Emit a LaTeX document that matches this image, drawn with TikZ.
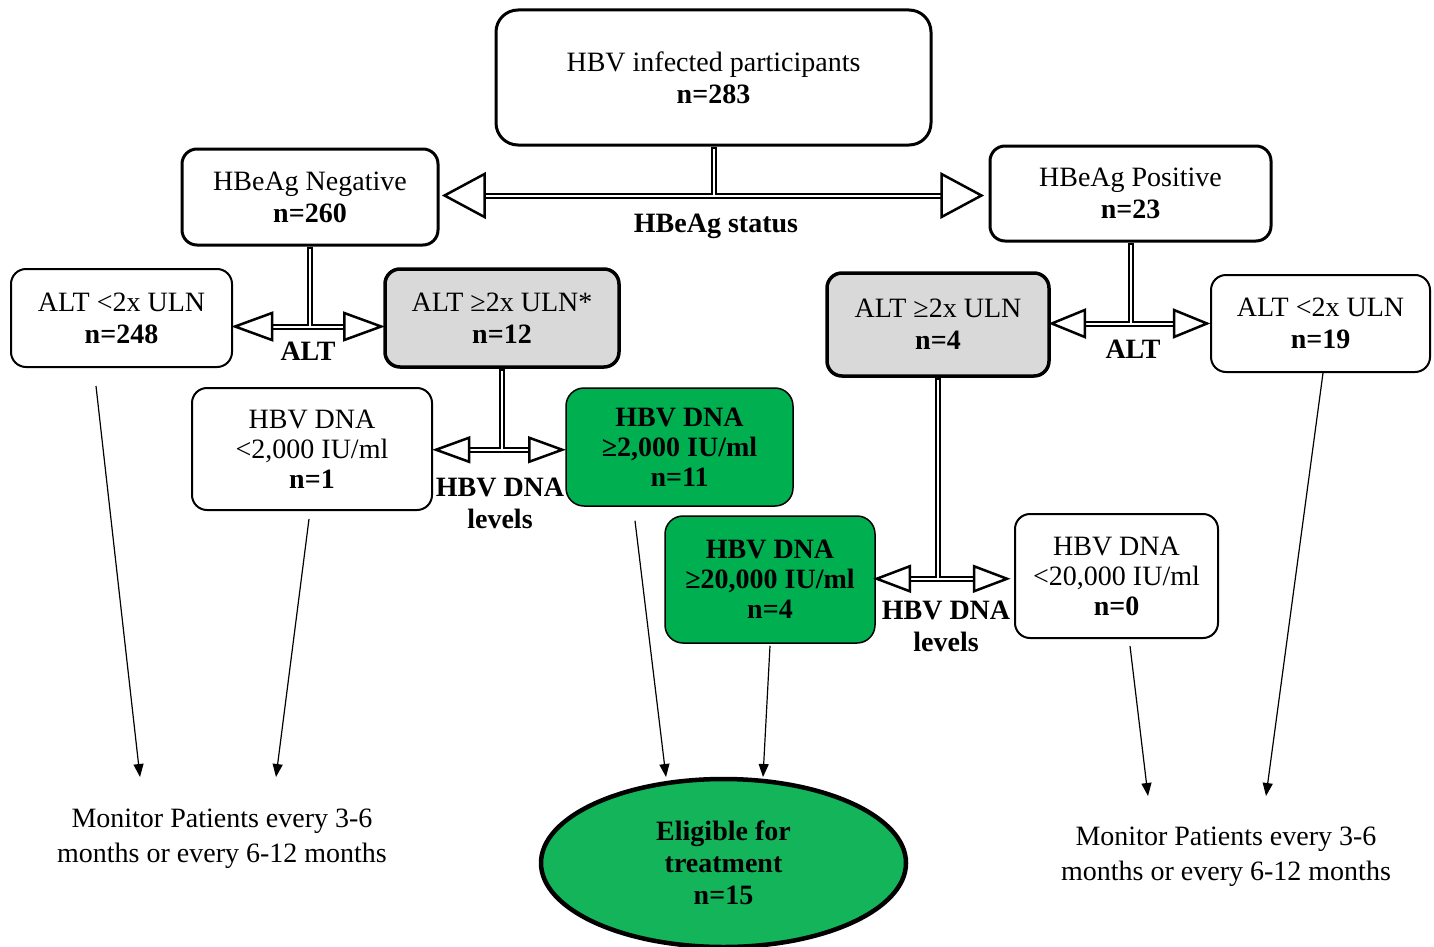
\documentclass[tikz,border=0pt]{standalone}
\usepackage{fontspec}
\setmainfont{Liberation Serif}
\usetikzlibrary{calc,arrows.meta,shapes.geometric}
\definecolor{boxgrey}{RGB}{217,217,217}
\definecolor{boxgreen}{RGB}{0,176,80}
\definecolor{ovalgreen}{RGB}{20,180,90}
\tikzset{
  box/.style={draw=black, rounded corners=15pt, align=center, inner sep=0pt,
    font={\fontsize{28}{32}\selectfont}, line width=2pt},
  greybox/.style={box, fill=boxgrey, line width=3.5pt},
  greenbox/.style={box, fill=boxgreen, line width=1.5pt, rounded corners=18pt,
    font={\fontsize{28}{30}\selectfont\bfseries}},
  plainbox/.style={box, font={\fontsize{28}{30}\selectfont}},
  lbl/.style={align=center, inner sep=0pt, font={\fontsize{28}{32}\selectfont\bfseries}},
  montext/.style={align=center, inner sep=0pt, font={\fontsize{28}{35}\selectfont}},
  dblout/.style={draw=black, line width=6pt, line cap=butt},
  dblin/.style={draw=white, line width=2pt, line cap=butt},
  openhead/.style={draw=black, fill=white, line width=2.5pt, line join=miter},
  thinarrow/.style={draw=black, line width=1.2pt, -{Triangle[length=13pt,width=10pt]}}
}
% #1 source anchor, #2 drop, #3 left node anchor, #4 left gap,
% #5 right node anchor, #6 right gap, #7 head length, #8 head half height
\newcommand{\teeconn}[8]{%
  \coordinate (tj) at ($(#1)+(0,#2)$);
  \coordinate (tL) at ($(#3|-tj)+(#4,0)$);
  \coordinate (tR) at ($(#5|-tj)+(-#6,0)$);
  \coordinate (bL) at ($(tL)+(#7,0)$);
  \coordinate (bR) at ($(tR)+(-#7,0)$);
  \draw[dblout] (#1) -- (tj) (bL) -- (bR);
  \draw[dblin] ($(#1)+(0,2.5)$) -- (tj) (bL) -- (bR);
  \draw[openhead] (tL) -- ($(bL)+(0,#8)$) -- ($(bL)+(0,-#8)$) -- cycle;
  \draw[openhead] (tR) -- ($(bR)+(0,#8)$) -- ($(bR)+(0,-#8)$) -- cycle;
}
\begin{document}
\begin{tikzpicture}[x=1pt,y=-1pt]
\useasboundingbox (0,0) rectangle (1434,947);

% boxes
\node[box, line width=3pt, rounded corners=22pt, minimum width=435pt, minimum height=135pt]
  (top) at (713.5,77.5) {HBV infected participants\\\textbf{n=283}};
\node[box, line width=3pt, minimum width=256pt, minimum height=96pt]
  (neg) at (310,197) {HBeAg Negative\\\textbf{n=260}};
\node[box, line width=3pt, minimum width=281pt, minimum height=95pt]
  (pos) at (1130.5,193.5) {HBeAg Positive\\\textbf{n=23}};
\node[box, minimum width=221pt, minimum height=98pt]
  (altl1) at (121.5,318) {ALT <2x ULN\\\textbf{n=248}};
\node[greybox, minimum width=234pt, minimum height=98pt]
  (altg1) at (502,318) {ALT ≥2x ULN*\\\textbf{n=12}};
\node[plainbox, minimum width=240pt, minimum height=122pt]
  (dnal) at (312,449) {HBV DNA\\<2,000 IU/ml\\\textbf{n=1}};
\node[greenbox, minimum width=227pt, minimum height=118pt]
  (dnag) at (679.5,447) {HBV DNA\\≥2,000 IU/ml\\n=11};
\node[greybox, minimum width=222pt, minimum height=103pt]
  (altg2) at (938,324.5) {ALT ≥2x ULN\\\textbf{n=4}};
\node[box, minimum width=219pt, minimum height=97pt]
  (altl2) at (1320.5,323.5) {ALT <2x ULN\\\textbf{n=19}};
\node[greenbox, minimum width=210pt, minimum height=127pt]
  (dnag2) at (770,579.5) {HBV DNA\\≥20,000 IU/ml\\n=4};
\node[plainbox, minimum width=203pt, minimum height=124pt]
  (dnal2) at (1116.5,576) {HBV DNA\\<20,000 IU/ml\\\textbf{n=0}};
\node[ellipse, draw=black, line width=4.5pt, fill=ovalgreen, minimum width=365pt,
  minimum height=168pt, inner sep=0pt, align=center,
  font={\fontsize{28}{32}\selectfont\bfseries}]
  (elig) at (723.5,863) {Eligible for\\treatment\\n=15};

% monitor texts
\node[montext] (mon1) at (222,839) {Monitor Patients every 3-6\\months or every 6-12 months};
\node[montext] (mon2) at (1226,857) {Monitor Patients every 3-6\\months or every 6-12 months};

% tee connectors with open arrow heads
\teeconn{top.south}{49}{neg.east}{5}{pos.west}{7}{40}{21.5}
\teeconn{neg.south}{80}{altl1.east}{2}{altg1.west}{2}{37}{13.5}
\teeconn{altg1.south}{81}{dnal.east}{3}{dnag.west}{3}{33}{12}
\teeconn{pos.south}{81}{altg2.east}{1}{altl2.west}{3}{33}{13.5}
\teeconn{altg2.south}{201}{dnag2.east}{1}{dnal2.west}{7}{33}{12.5}

% labels
\node[lbl] (lstatus) at (716,226) {HBeAg status};
\node[lbl] (lalt1) at (308,351) {ALT};
\node[lbl] (lalt2) at (1133,349) {ALT};
\node[lbl] (ldna1) at (500,503) {HBV DNA\\levels};
\node[lbl] (ldna2) at (946,626) {HBV DNA\\levels};

% thin arrows
\coordinate (s1) at ($(altl1.south)+(-25.5,18)$);
\coordinate (s2) at ($(dnal.south)+(-3,8)$);
\coordinate (s3) at ($(dnag.south)+(-44.5,14)$);
\coordinate (s4) at ($(dnag2.south)+(0,2)$);
\coordinate (s5) at ($(dnal2.south)+(13.5,7)$);
\coordinate (s6) at ($(altl2.south)+(2.5,0)$);
\coordinate (e1) at (140,777);
\coordinate (e2) at (276,777);
\coordinate (e3) at (666,777);
\coordinate (e4) at (763,777);
\coordinate (e5) at (1148,796);
\coordinate (e6) at (1266,796);
\draw[thinarrow] (s1) -- (e1);
\draw[thinarrow] (s2) -- (e2);
\draw[thinarrow] (s3) -- (e3);
\draw[thinarrow] (s4) -- (e4);
\draw[thinarrow] (s5) -- (e5);
\draw[thinarrow] (s6) -- (e6);
\end{tikzpicture}
\end{document}
